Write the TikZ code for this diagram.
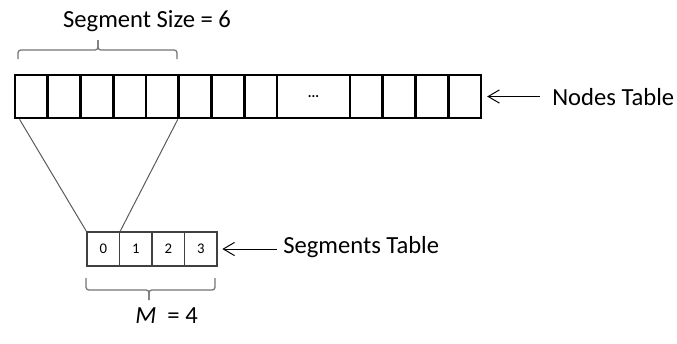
\documentclass[tikz,border=0pt]{standalone}
\usepackage{fontspec}
\setmainfont{Carlito}
\usetikzlibrary{positioning,arrows.meta}
\tikzset{
  ncell/.style={rectangle,draw=black,line width=2pt,inner sep=0pt,
    minimum width=0.819cm,minimum height=1.075cm,font=\fontsize{10}{11}\selectfont\bfseries},
  scell/.style={rectangle,draw=black!75,line width=0.8pt,inner sep=0pt,
    minimum width=0.8125cm,minimum height=0.85cm,font=\fontsize{10.5}{11}\selectfont},
  lbl/.style={inner sep=0pt,font=\fontsize{17.5}{20}\selectfont},
  brk/.style={draw=black!55,line width=0.9pt,rounded corners=2pt},
  link/.style={draw=black!65,line width=0.7pt},
  ptr/.style={-{Straight Barb[length=0.28cm,width=0.33cm]},line width=0.7pt,shorten >=0.12cm},
}
\begin{document}
\begin{tikzpicture}[x=0.025cm,y=-0.025cm]
  \useasboundingbox (0,0) rectangle (677,343);
  % nodes table
  \foreach \i in {1,...,8}
    \node[ncell] (n\i) at ({15+32.75*(\i-0.5)},96.5) {};
  \node[ncell,minimum width=1.825cm] (ndots) at (313.5,96.5) {...};
  \foreach \i in {9,...,12}
    \node[ncell] (n\i) at ({350+32.75*(\i-8.5)},96.5) {};
  % segments table
  \foreach \i in {0,...,3}
    \node[scell] (s\i) at ({87+32.5*(\i+0.5)},249) {\i};
  % one segment = 6 nodes
  \draw[link] ([xshift=0.15cm]n1.south west) -- (s0.north west);
  \draw[link] ([xshift=-0.06cm]n5.south east) -- (s0.north east);
  % braces
  \draw[brk] (18,59) |- (98,50) -- (98,40);
  \draw[brk] (177,59) |- (98,50) -- (98,40);
  \draw[brk] (86,278) |- (149,290) -- (149,300);
  \draw[brk] (215,278) |- (149,290) -- (149,300);
  % labels
  \node[lbl,anchor=base] (segsize) at (147,27) {Segment Size = 6};
  \node[lbl,anchor=base west,inner xsep=0.3cm] (ntlbl) at (540,105) {Nodes Table};
  \node[lbl,anchor=base west,inner xsep=0.15cm] (stlbl) at (277,253) {Segments Table};
  \node[lbl,anchor=base west] (mlbl) at (135,323) {\textit{M}~~= 4};
  \draw[ptr] (ntlbl.west |- n12.east) -- (n12.east);
  \draw[ptr] (stlbl.west |- s3.east) -- (s3.east);
\end{tikzpicture}
\end{document}
